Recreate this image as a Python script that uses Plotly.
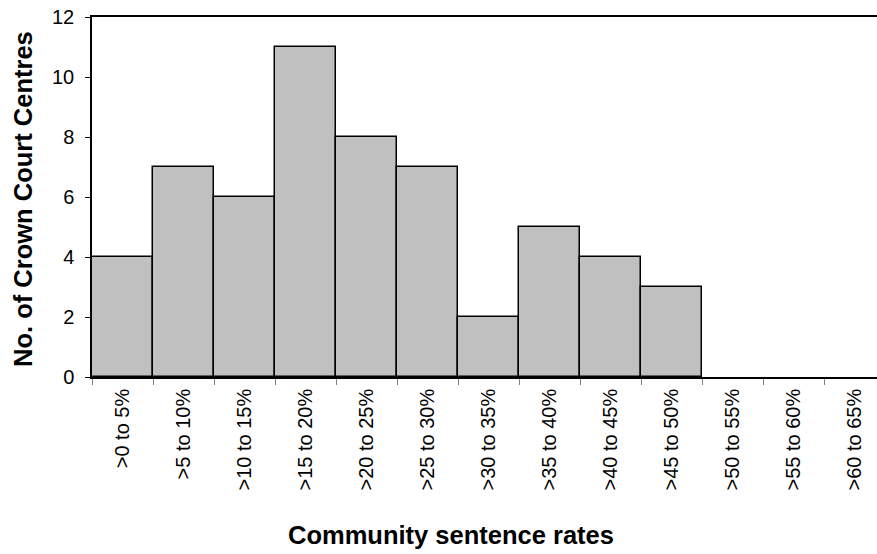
import plotly.graph_objects as go

categories = [">0 to 5%", ">5 to 10%", ">10 to 15%", ">15 to 20%", ">20 to 25%",
              ">25 to 30%", ">30 to 35%", ">35 to 40%", ">40 to 45%", ">45 to 50%",
              ">50 to 55%", ">55 to 60%", ">60 to 65%"]
counts = [4, 7, 6, 11, 8, 7, 2, 5, 4, 3, 0, 0, 0]
y_ticks = [0, 2, 4, 6, 8, 10, 12]

W, H = 877, 554
L, T, R = 92, 17, 0
B = H - 377
pw, ph = W - L - R, H - T - B

def px_x(x):
    return (x - L) / pw

def px_y(y):
    return (H - B - y) / ph

fig = go.Figure(go.Bar(
    x=categories, y=counts,
    marker=dict(color="#C0C0C0",
                line=dict(color="black", width=[1.5 if c > 0 else 0 for c in counts])),
    width=1.0,
))

font = "Liberation Sans, Arial, sans-serif"
fig.update_layout(
    width=W, height=H,
    margin=dict(l=L, r=R, t=T, b=B, autoexpand=False),
    plot_bgcolor="white", paper_bgcolor="white",
    bargap=0, showlegend=False,
    font=dict(family=font, color="black"),
    xaxis=dict(
        range=[-0.5, -0.5 + pw / 61.0], tickangle=-90, tickson="boundaries",
        ticks="outside", ticklen=6, tickcolor="#808080", tickwidth=1,
        showline=True, linecolor="black", linewidth=1.5, mirror=True,
        tickfont=dict(size=20), showgrid=False, automargin=False,
        ticklabelstandoff=2,
    ),
    yaxis=dict(
        range=[0, 12], tickvals=y_ticks, ticks="outside", ticklen=5,
        tickcolor="black", showline=True, linecolor="black", linewidth=1.5,
        tickfont=dict(size=20), showgrid=False, zeroline=False,
        automargin=False, ticklabelstandoff=7,
    ),
    annotations=[
        dict(text="<b>Community sentence rates</b>", xref="paper", yref="paper",
             x=px_x(451), y=px_y(535), xanchor="center", yanchor="middle",
             showarrow=False, font=dict(size=25.5)),
        dict(text="<b>No. of Crown Court Centres</b>", xref="paper", yref="paper",
             x=px_x(23), y=px_y(199), xanchor="center", yanchor="middle",
             textangle=-90, showarrow=False, font=dict(size=25.5)),
    ],
)

fig.write_html("out.html", config={"displayModeBar": False},
               post_script="document.body.style.margin='0px';")
